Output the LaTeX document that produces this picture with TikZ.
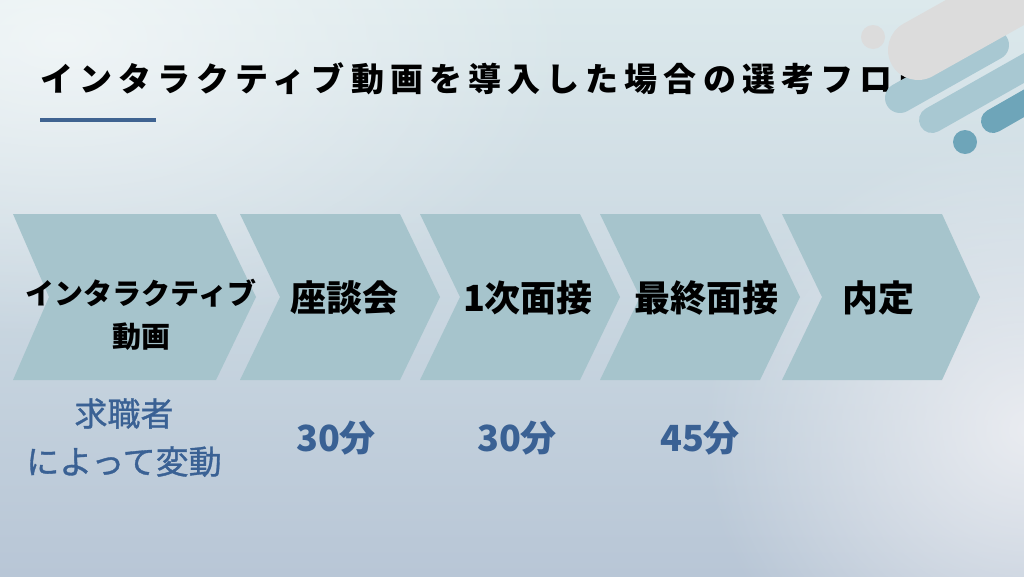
\documentclass[tikz,border=0pt]{standalone}
\usepackage{fontspec}
\setmainfont{Noto Sans CJK JP}
\newfontfamily\jptitle{Noto Sans CJK JP}[LetterSpace=18.5]
\newfontfamily\jpmed{Noto Sans CJK JP}[FakeBold=1]
\usetikzlibrary{fadings}
\tikzfading[name=softglow, inner color=transparent!0, outer color=transparent!100]
\definecolor{chevfill}{HTML}{A6C4CC}
\definecolor{bluetext}{HTML}{3A6194}
\definecolor{barblue}{HTML}{3F6391}
\definecolor{bgtop}{HTML}{DCE9EC}
\definecolor{bgbot}{HTML}{B8C6D6}
\definecolor{bglight}{HTML}{EEEFF3}
\definecolor{decogray}{HTML}{DCDCDC}
\definecolor{decolight}{HTML}{A8C8D2}
\definecolor{decodark}{HTML}{6EA5B9}
\begin{document}
\begin{tikzpicture}[x=1pt,y=-1pt,
  chev/.style={fill=chevfill},
  steplbl/.style={font=\bfseries\fontsize{36}{40}\selectfont, text=black, inner sep=0pt, anchor=base},
  firstlbl/.style={font=\bfseries\fontsize{29}{43}\selectfont, text=black, inner sep=0pt, anchor=base, align=center},
  durlbl/.style={font=\bfseries\fontsize{36}{40}\selectfont, text=bluetext, inner sep=0pt, anchor=base},
  varlbl/.style={font=\jpmed\fontsize{33}{48}\selectfont, text=bluetext, inner sep=0pt, anchor=base, align=center},
  pill/.style={line cap=round}
]
\useasboundingbox (0,0) rectangle (1024,576);
% background
\shade[top color=bgtop, bottom color=bgbot] (0,0) rectangle (1024,576);
\fill[white, path fading=softglow, opacity=0.6] (60,40) ellipse (520 and 300);
\fill[bglight, path fading=softglow, opacity=0.9] (1030,430) ellipse (330 and 300);

% title
\node[font=\jptitle\bfseries\fontsize{33}{40}\selectfont, inner sep=0pt, anchor=base west] (title) at (40,91) {インタラクティブ動画を導入した場合の選考フロー};
\fill[barblue] (40,118) rectangle (156,122);

% decoration
\fill[decogray] (873,37) circle (12);
\draw[pill, decolight, line width=30] (900,98) -- (994,45);
\draw[pill, decogray, line width=60] (918,50) -- (1100,-52);
\draw[pill, decolight, line width=26] (932,120) -- (1070,42);
\draw[pill, decodark, line width=24] (993,121) -- (1070,77);
\fill[decodark] (965,142) circle (12);

% chevrons
\fill[chev] (13,214) -- (216,214) -- (256,297) -- (216,380) -- (13,380) -- (49,297) -- cycle;
\fill[chev] (240,214) -- (400,214) -- (440,297) -- (400,380) -- (240,380) -- (280,297) -- cycle;
\fill[chev] (420,214) -- (580,214) -- (620,297) -- (580,380) -- (420,380) -- (460,297) -- cycle;
\fill[chev] (600,214) -- (760,214) -- (800,297) -- (760,380) -- (600,380) -- (640,297) -- cycle;
\fill[chev] (782,214) -- (942,214) -- (980,297) -- (942,380) -- (782,380) -- (822,297) -- cycle;

% step labels
\node[firstlbl] (s1) at (141,347) {インタラクティブ\\動画};
\node[steplbl] (s2) at (344,311) {座談会};
\node[steplbl] (s3) at (528,311) {1次面接};
\node[steplbl] (s4) at (706,311) {最終面接};
\node[steplbl] (s5) at (878,311) {内定};

% durations
\node[varlbl] (d1) at (124,474) {求職者\\によって変動};
\node[durlbl] (d2) at (336,451) {30分};
\node[durlbl] (d3) at (517,451) {30分};
\node[durlbl] (d4) at (700,451) {45分};
\end{tikzpicture}
\end{document}
